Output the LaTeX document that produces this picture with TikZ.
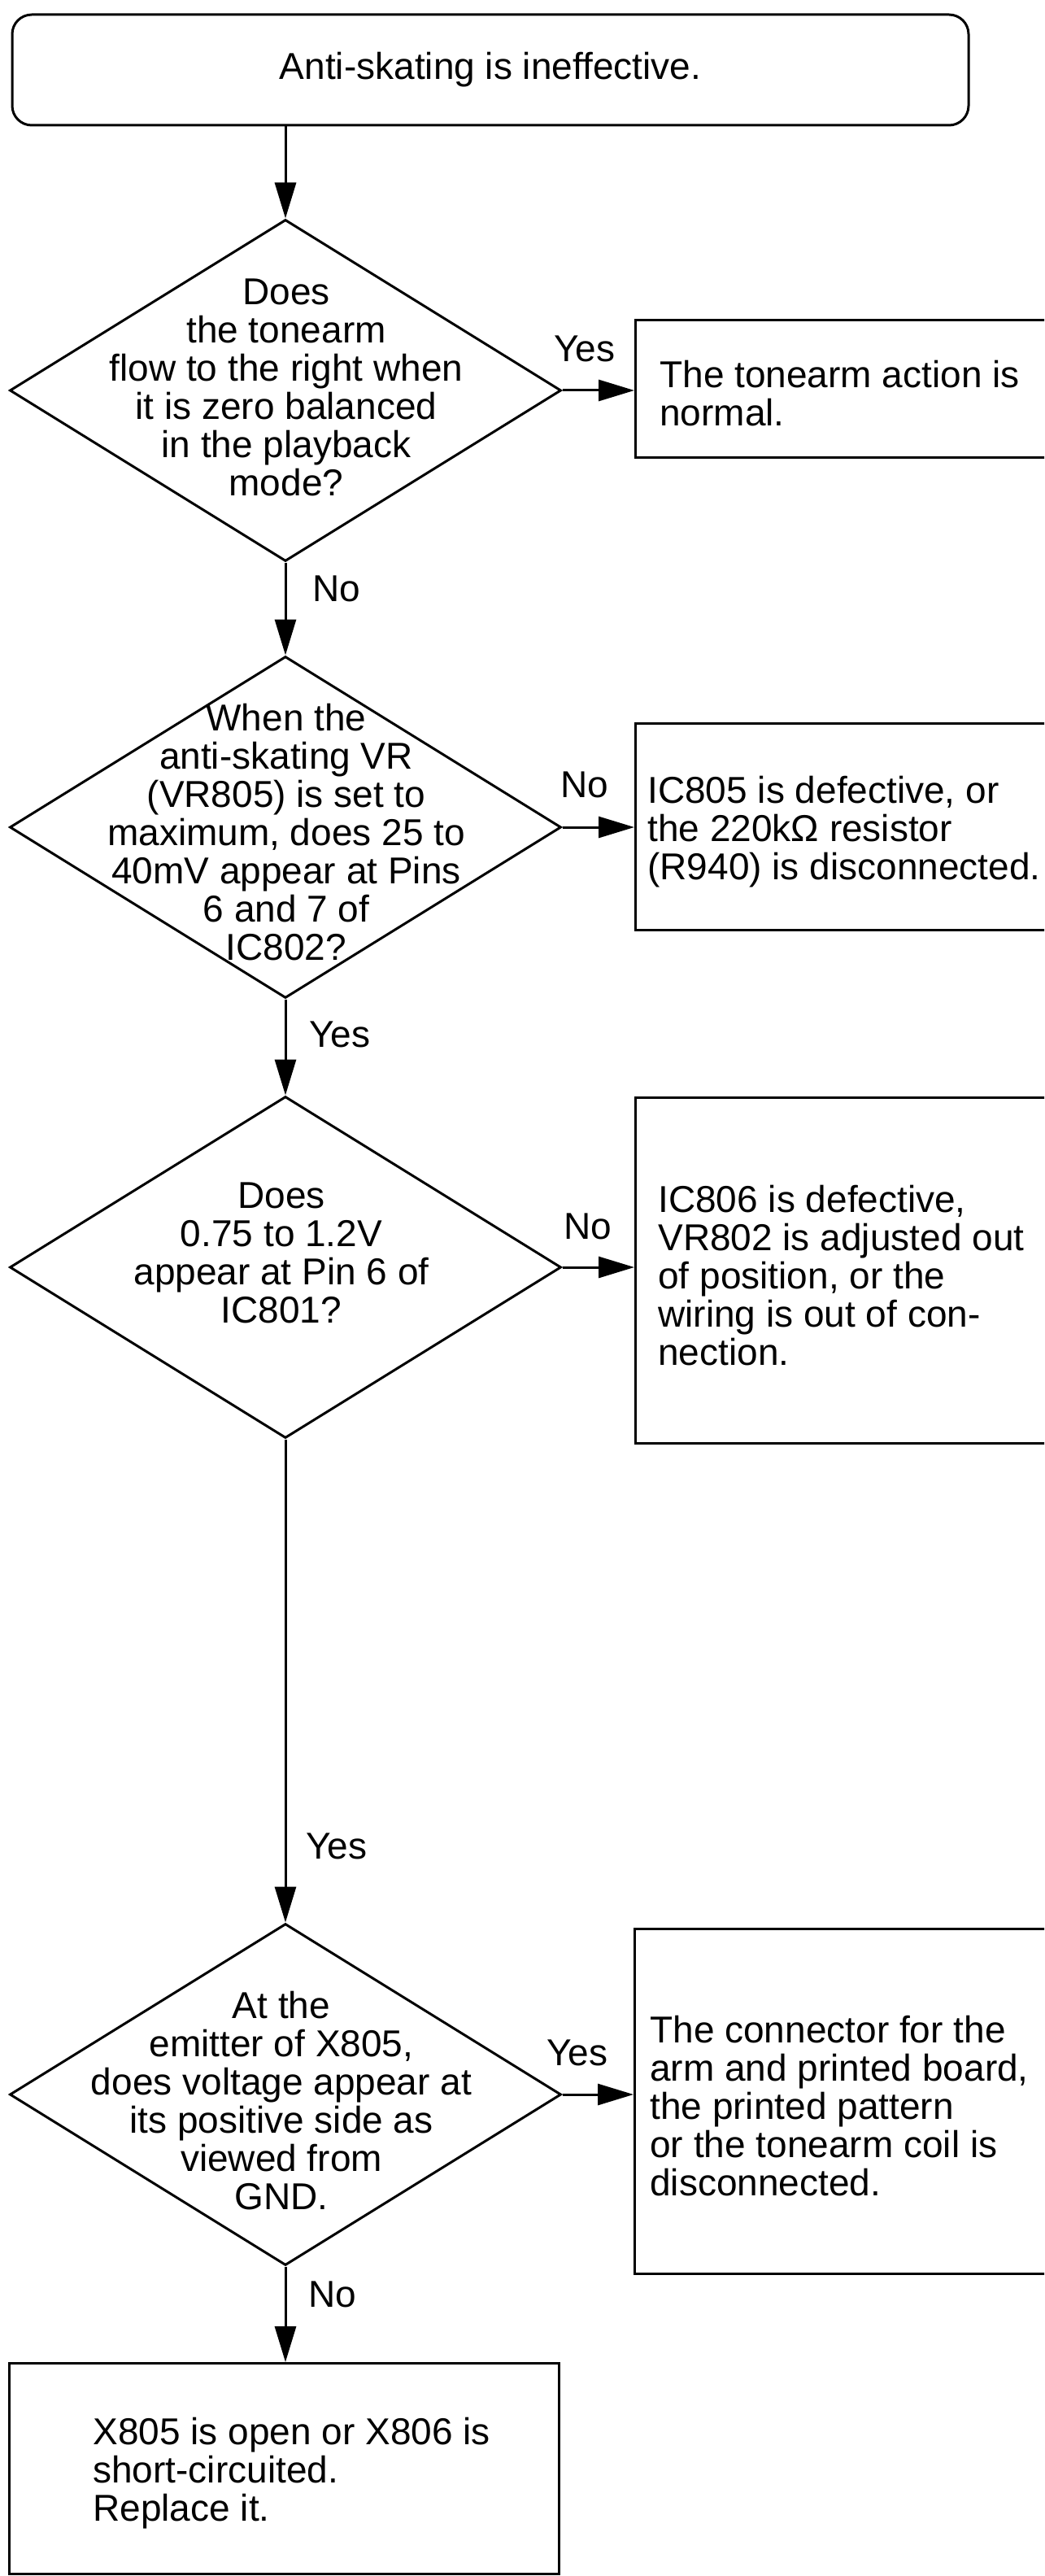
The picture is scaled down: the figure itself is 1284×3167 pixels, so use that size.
\documentclass[tikz,border=0pt]{standalone}
\usepackage{fontspec}
\setmainfont{Liberation Sans}
\usetikzlibrary{shapes.geometric,arrows.meta}
\tikzset{
    ques/.style={draw, diamond, line width=1.5pt, minimum width=339pt, minimum height=210pt, inner sep=0pt},
    qtext/.style={align=center, inner sep=0pt},
    result/.style={draw, rectangle, line width=1.5pt, inner sep=0pt, anchor=north west},
    words/.style={align=left, inner sep=0pt, anchor=west, yshift=-3pt},
    tag/.style={inner sep=0pt},
    flow/.style={line width=1.5pt, -{Triangle[length=22pt, width=13pt]}}
}
\begin{document}
\begin{tikzpicture}[x=0.5pt, y=-0.5pt, font=\fontsize{23}{23.5}\selectfont]
    \clip (0,0) rectangle (1284,3167);
    \node[draw, line width=1.5pt, rounded corners=12pt, minimum width=588pt, minimum height=68pt] (start) at (603,86) {Anti-skating is ineffective.};

    \node[ques] (q1) at (351,480) {};
    \node[qtext] (q1text) at (352,476) {Does\\the tonearm\\flow to the right when\\it is zero balanced\\in the playback\\mode?};
    \node[ques] (q2) at (351,1017) {};
    \node[qtext] (q2text) at (352,1023) {When the\\anti-skating VR\\(VR805) is set to\\maximum, does 25 to\\40mV appear at Pins\\6 and 7 of\\IC802?};
    \node[ques] (q3) at (351,1558) {};
    \node[qtext] (q3text) at (346,1540) {Does\\0.75 to 1.2V\\appear at Pin 6 of\\IC801?};
    \node[ques] (q4) at (351,2575) {};
    \node[qtext] (q4text) at (346,2583) {At the\\emitter of X805,\\does voltage appear at\\its positive side as\\viewed from\\GND.};

    \node[result, minimum width=270pt, minimum height=84.5pt] (a1) at (780,392) {};
    \node[words] (a1text) at ([xshift=15.5pt]a1.west) {The tonearm action is\\normal.};
    \node[result, minimum width=270pt, minimum height=127pt] (a2) at (780,888) {};
    \node[words] (a2text) at ([xshift=8pt]a2.west) {IC805 is defective, or\\the 220kΩ resistor\\(R940) is disconnected.};
    \node[result, minimum width=270pt, minimum height=212.5pt] (a3) at (780,1348) {};
    \node[words] (a3text) at ([xshift=14.5pt]a3.west) {IC806 is defective,\\VR802 is adjusted out\\of position, or the\\wiring is out of con-\\nection.};
    \node[result, minimum width=270pt, minimum height=212pt] (a4) at (779,2370) {};
    \node[words] (a4text) at ([xshift=10pt]a4.west) {The connector for the\\arm and printed board,\\the printed pattern\\or the tonearm coil is\\disconnected.};
    \node[result, minimum width=338pt, minimum height=129.5pt] (a5) at (10,2904) {};
    \node[words] (a5text) at ([xshift=52pt]a5.west) {X805 is open or X806 is\\short-circuited.\\Replace it.};

    \draw[flow] (start.south -| q1.north) -- (q1.north);
    \draw[flow] (q1.south) -- (q2.north);
    \draw[flow] (q2.south) -- (q3.north);
    \draw[flow] (q3.south) -- (q4.north);
    \draw[flow] (q4.south) -- (q4.south |- a5.north);
    \draw[flow] (q1.east) -- (q1.east -| a1.west);
    \draw[flow] (q2.east) -- (q2.east -| a2.west);
    \draw[flow] (q3.east) -- (q3.east -| a3.west);
    \draw[flow] (q4.east) -- (q4.east -| a4.west);

    \node[tag] (yes1) at (719,429) {Yes};
    \node[tag] (no1) at (414,724) {No};
    \node[tag] (no2) at (719,965) {No};
    \node[tag] (yes2) at (418,1272) {Yes};
    \node[tag] (no3) at (723,1508) {No};
    \node[tag] (yes3) at (414,2270) {Yes};
    \node[tag] (yes4) at (710,2524) {Yes};
    \node[tag] (no4) at (409,2821) {No};
\end{tikzpicture}
\end{document}
